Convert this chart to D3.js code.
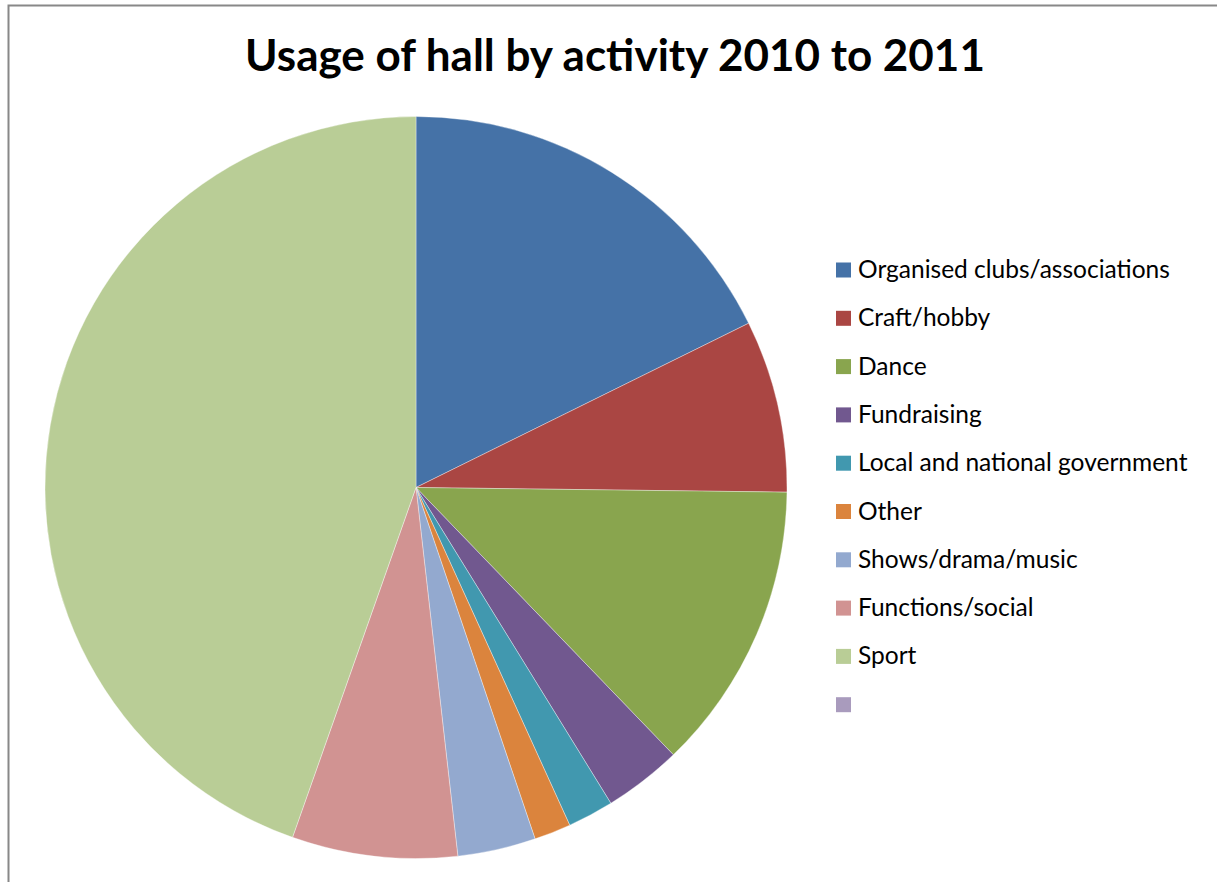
<!DOCTYPE html>
<html><head><meta charset="utf-8">
<script src="https://cdn.jsdelivr.net/npm/d3@7"></script>
<style>html,body{margin:0;padding:0;background:#fff;}</style>
</head><body>
<script>
const title = "Usage of hall by activity 2010 to 2011";
const categories = ["Organised clubs/associations","Craft/hobby","Dance","Fundraising","Local and national government","Other","Shows/drama/music","Functions/social","Sport",""];
const values = [17.7, 7.5, 12.6, 3.4, 2.0, 1.6, 3.4, 7.2, 44.6, 0];
const colors = ["#4572A7","#AA4643","#89A54E","#71588F","#4198AF","#DB843D","#93A9CF","#D19392","#B9CD96","#A99BBD"];

const W = 1217, H = 882;
const svg = d3.select("body").append("svg").attr("width", W).attr("height", H);
const font = "Lato, 'Open Sans', sans-serif";

// frame
svg.append("path").attr("d", `M8.5,${H} L8.5,5.5 L${W},5.5`).attr("fill","none").attr("stroke","#888").attr("stroke-width",2);

// title
const t = svg.append("text").attr("x", 615).attr("y", 71).attr("text-anchor","middle")
  .attr("font-family", font).attr("font-weight","bold").attr("font-size", 40).attr("fill","#000").text(title);
const tw = t.node().getComputedTextLength();
t.attr("font-size", 40 * 740 / tw);

// pie
const data = categories.map((c,i)=>({c, v: values[i], col: colors[i]}));
const pie = d3.pie().value(d=>d.v).sort(null);
const arc = d3.arc().innerRadius(0).outerRadius(371);
const g = svg.append("g").attr("transform","translate(416,487.5)");
g.selectAll("path").data(pie(data).filter(d=>d.data.v>0)).join("path")
  .attr("d", arc).attr("fill", d=>d.data.col).attr("stroke","#fff").attr("stroke-width",0.6).attr("stroke-opacity",0.6);

// legend
const y = d3.scalePoint().domain(d3.range(categories.length)).range([270, 270 + 48.3*9]);
const lg = svg.append("g");
const rows = lg.selectAll("g").data(data).join("g").attr("transform",(d,i)=>`translate(836,${y(i)})`);
rows.append("rect").attr("x",0).attr("y",-7.5).attr("width",15).attr("height",15).attr("fill",d=>d.col);
const txt = rows.append("text").attr("x",22).attr("y",8).attr("font-family",font).attr("font-size",21).attr("fill","#000").text(d=>d.c);
const w0 = txt.nodes()[0].getComputedTextLength();
txt.attr("font-size", 21 * 312 / w0);
</script>
</body></html>
